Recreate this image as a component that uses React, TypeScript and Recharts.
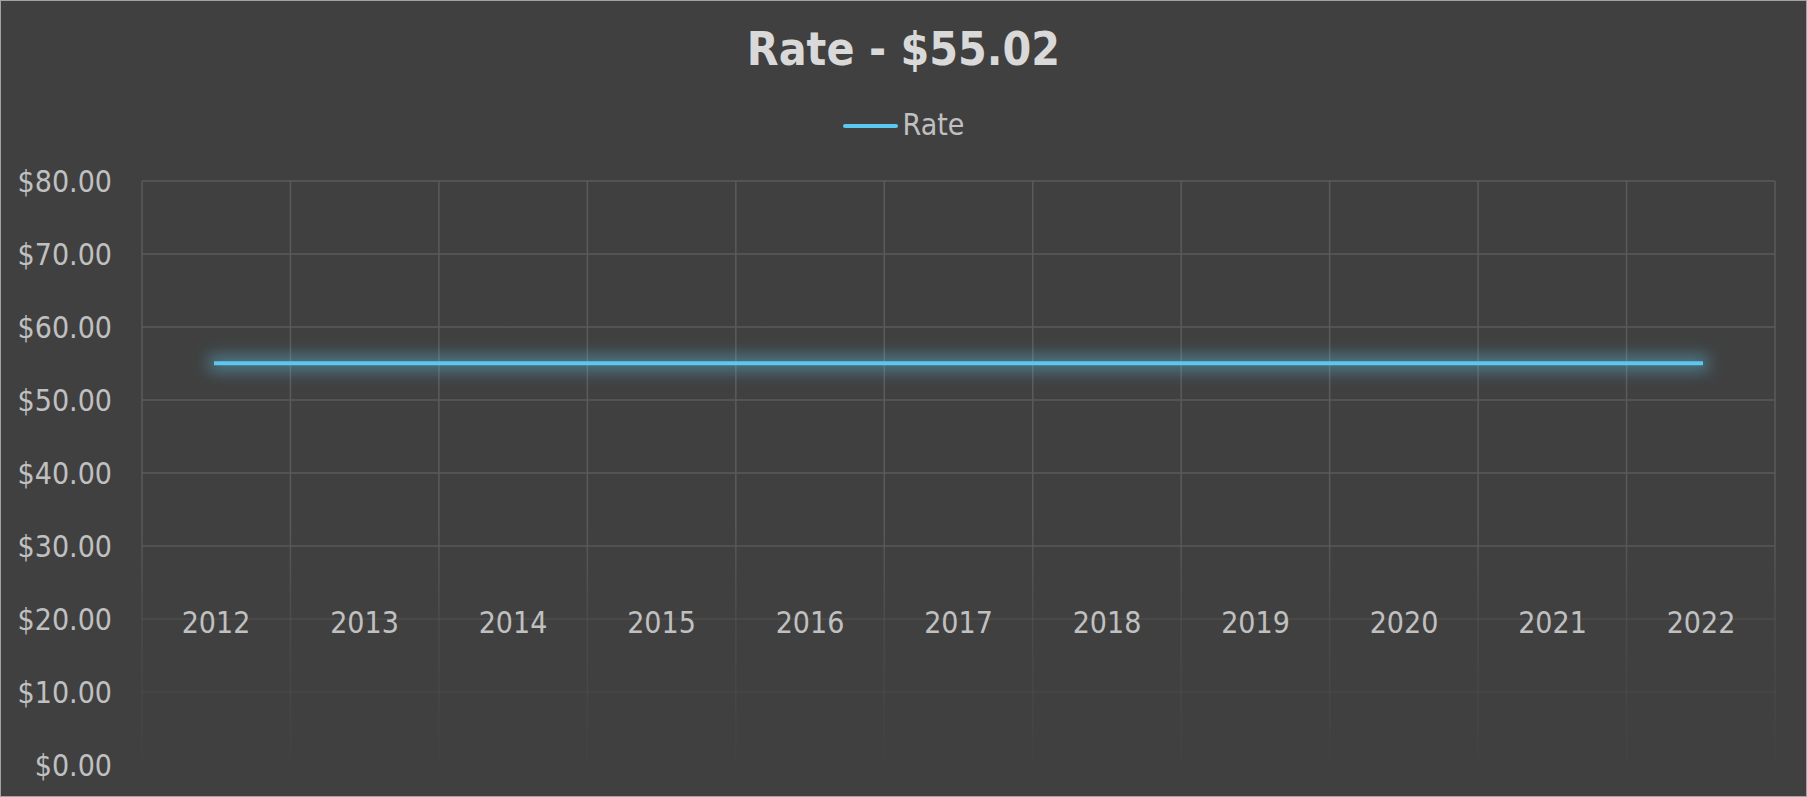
import {LineChart, Line, XAxis, YAxis, CartesianGrid, Legend} from "recharts";

const years = ["2012", "2013", "2014", "2015", "2016", "2017", "2018", "2019", "2020", "2021", "2022"];
const rates = [55.02, 55.02, 55.02, 55.02, 55.02, 55.02, 55.02, 55.02, 55.02, 55.02, 55.02];
const yTicks = [0, 10, 20, 30, 40, 50, 60, 70, 80];

const data = years.map((year, i) => ({year, rate: rates[i]}));

const FONT = "'DejaVu Sans Condensed', 'DejaVu Sans', sans-serif";
const LABEL = "#c0c0c0";
const LINE = "#5bc8ef";

// vertical gridlines sit between the years, like Excel's "between tick marks"
const slotLines = ({offset}: any) =>
  Array.from({length: years.length + 1}, (_, i) => offset.left + (offset.width * i) / years.length);

const YearTick = ({x, y, payload}: any) => (
  <text
    x={x}
    y={y - 132}
    textAnchor="middle"
    fill={LABEL}
    fontSize={30}
    fontFamily={FONT}
    style={{fontStretch: "condensed"}}
  >
    {payload.value}
  </text>
);

const LegendBox = ({payload}: any) => (
  <div
    style={{
      height: 100,
      boxSizing: "border-box",
      paddingBottom: 14,
      display: "flex",
      justifyContent: "center",
      alignItems: "center",
      fontFamily: FONT,
      fontStretch: "condensed",
      fontSize: 30,
      color: LABEL,
    }}
  >
    {(payload || []).map((p: any) => (
      <div key={p.value} style={{display: "flex", alignItems: "center"}}>
        <span
          style={{
            display: "inline-block",
            width: 55,
            height: 4,
            borderRadius: 2,
            background: p.color,
            marginRight: 5,
            marginTop: 3,
          }}
        />
        <span>{p.value}</span>
      </div>
    ))}
  </div>
);

export default function App() {
  return (
    <div
      style={{
        position: "absolute",
        left: 0,
        top: 0,
        width: 1807,
        height: 797,
        boxSizing: "border-box",
        border: "1px solid #a3a3a3",
        background: "#404040",
      }}
    >
      <div
        style={{
          position: "absolute",
          left: 0,
          top: 0,
          width: "100%",
          lineHeight: "96px",
          textAlign: "center",
          fontFamily: FONT,
          fontStretch: "condensed",
          fontWeight: "bold",
          fontSize: 46,
          color: "#d9d9d9",
        }}
      >
        Rate - $55.02
      </div>
      <LineChart
        width={1805}
        height={795}
        data={data}
        margin={{top: 80, right: 31, bottom: 1, left: 0}}
      >
        <defs>
          <linearGradient id="gridFade" gradientUnits="userSpaceOnUse" x1="0" y1="520" x2="0" y2="785">
            <stop offset="0" stopColor="#5a5a5a" stopOpacity={1} />
            <stop offset="0.4" stopColor="#5a5a5a" stopOpacity={0.4} />
            <stop offset="1" stopColor="#5a5a5a" stopOpacity={0} />
          </linearGradient>
          <filter id="glow" filterUnits="userSpaceOnUse" x="0" y="0" width="1805" height="795">
            <feMorphology in="SourceGraphic" operator="dilate" radius="5" result="fat" />
            <feGaussianBlur in="fat" stdDeviation="8" result="blur" />
            <feComponentTransfer in="blur" result="soft">
              <feFuncA type="linear" slope="0.5" />
            </feComponentTransfer>
            <feMerge>
              <feMergeNode in="soft" />
              <feMergeNode in="SourceGraphic" />
            </feMerge>
          </filter>
        </defs>
        <CartesianGrid
          stroke="url(#gridFade)"
          strokeWidth={1.5}
          verticalCoordinatesGenerator={slotLines}
        />
        <XAxis
          dataKey="year"
          type="category"
          padding={{left: 74, right: 74}}
          axisLine={false}
          tickLine={false}
          tickSize={0}
          tickMargin={0}
          height={30}
          interval={0}
          tick={<YearTick />}
        />
        <YAxis
          domain={[0, 80]}
          ticks={yTicks}
          width={141}
          axisLine={false}
          tickLine={false}
          tickMargin={24}
          tickFormatter={(v: number) => `$${v.toFixed(2)}`}
          tick={{fill: LABEL, fontSize: 30, fontFamily: FONT, style: {fontStretch: "condensed"}}}
        />
        <Legend
          verticalAlign="top"
          wrapperStyle={{left: 0, width: 1805}}
          content={<LegendBox />}
        />
        <Line
          type="linear"
          dataKey="rate"
          name="Rate"
          stroke={LINE}
          strokeWidth={4}
          strokeLinecap="square"
          dot={false}
          activeDot={false}
          legendType="plainline"
          filter="url(#glow)"
          isAnimationActive={false}
        />
      </LineChart>
    </div>
  );
}
